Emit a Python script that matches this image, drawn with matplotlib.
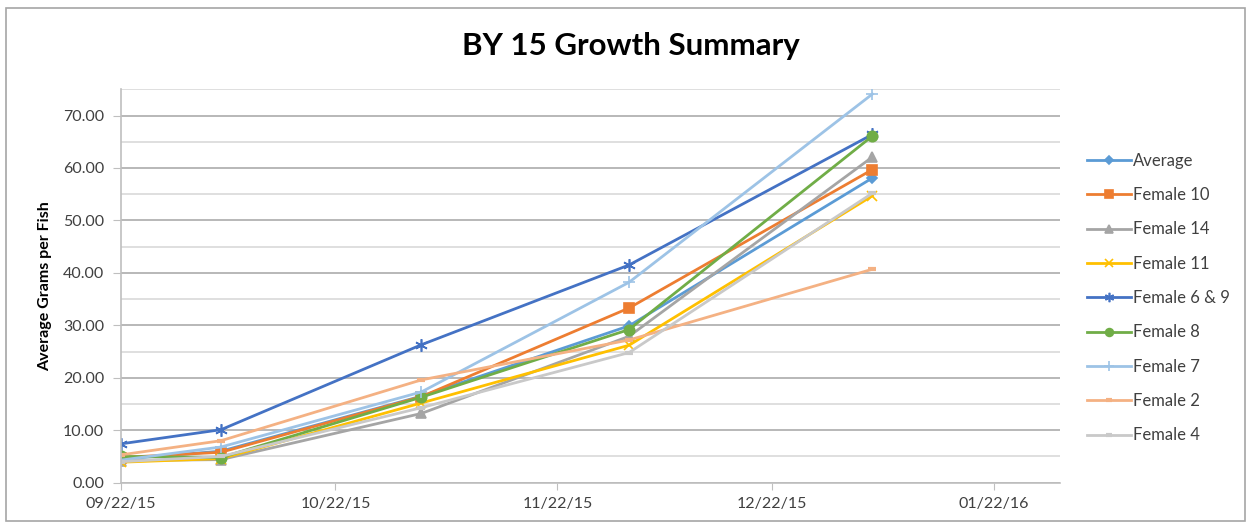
import datetime as dt
import matplotlib
matplotlib.use("Agg")
import matplotlib.pyplot as plt
import matplotlib.dates as mdates
from matplotlib.patches import Rectangle

plt.rcParams['font.family'] = ['Lato', 'DejaVu Sans']

# sampling dates
datum = [dt.date(2015, 9, 22), dt.date(2015, 10, 6), dt.date(2015, 11, 3),
         dt.date(2015, 12, 2), dt.date(2016, 1, 5)]

# average grams per fish, one list per group
average = [4.5, 6.0, 16.5, 29.9, 58.1]
female_10 = [4.8, 5.8, 16.4, 33.3, 59.7]
female_14 = [4.2, 4.4, 13.2, 27.9, 62.1]
female_11 = [3.9, 4.6, 15.2, 26.2, 54.7]
female_6_9 = [7.4, 10.1, 26.3, 41.5, 66.4]
female_8 = [5.0, 4.8, 16.3, 29.2, 66.1]
female_7 = [4.3, 6.8, 17.3, 38.2, 74.1]
female_2 = [5.3, 8.0, 19.6, 27.2, 40.7]
female_4 = [4.0, 5.0, 14.3, 24.8, 55.2]

namen = ["Average", "Female 10", "Female 14", "Female 11", "Female 6 & 9",
         "Female 8", "Female 7", "Female 2", "Female 4"]
werte = [average, female_10, female_14, female_11, female_6_9,
         female_8, female_7, female_2, female_4]
farben = ["#5B9BD5", "#ED7D31", "#A5A5A5", "#FFC000", "#4472C4",
          "#70AD47", "#9DC3E6", "#F4B183", "#C9C9C9"]
marker = ["D", "s", "^", "x", (6, 2, 0), "o", "+", "_", "_"]
msize = [5.5, 7, 7, 7, 9, 7.5, 9, 6, 6]

fig = plt.figure(figsize=(12.51, 5.27), dpi=100)
ax = fig.add_axes([0.0965, 0.0841, 0.7508, 0.7464])

for i in range(len(namen)):
    ax.plot(datum, werte[i], color=farben[i], lw=2.0, marker=marker[i],
            ms=msize[i], mew=1.2 if i not in (7, 8) else 3,
            label=namen[i])

# axes limits and ticks
start = mdates.date2num(dt.datetime(2015, 9, 22))
ax.set_xlim(start, start + 131.2)
ax.set_ylim(0, 75)
ax.set_yticks(range(0, 80, 10))
ax.set_yticks(range(5, 80, 10), minor=True)
ax.yaxis.set_major_formatter(matplotlib.ticker.FormatStrFormatter("%.2f"))
ax.xaxis.set_major_locator(mdates.DayLocator(bymonthday=22))
ax.xaxis.set_major_formatter(mdates.DateFormatter("%m/%d/%y"))

ax.grid(axis="y", which="major", color="#ABABAB", lw=1.2)
ax.grid(axis="y", which="minor", color="#D9D9D9", lw=1.2)
ax.set_axisbelow(True)
for s in ["top", "right"]:
    ax.spines[s].set_visible(False)
ax.spines["left"].set_color("#BFBFBF")
ax.spines["bottom"].set_color("#BFBFBF")
ax.spines["left"].set_linewidth(1.2)
ax.spines["bottom"].set_linewidth(1.2)
ax.tick_params(axis="y", which="major", length=6, color="#BFBFBF",
               labelsize=11.5, labelcolor="#404040", pad=6)
ax.tick_params(axis="y", which="minor", length=0)
ax.tick_params(axis="x", length=5, color="#BFBFBF", labelsize=11.5,
               labelcolor="#404040", pad=5)

ax.set_ylabel("Average Grams per Fish", fontsize=11.5, fontweight="bold",
              labelpad=8)
fig.text(0.504, 0.913, "BY 15 Growth Summary", ha="center", va="center",
         fontsize=22.5, fontweight="bold")

ax.legend(loc="upper left", bbox_to_anchor=(1.013, 0.877), frameon=False,
          fontsize=12, labelspacing=1.1, handlelength=2.6, markerscale=0.75,
          handletextpad=0.15, labelcolor="#404040")

# rahmen um das diagramm
fig.patches.append(Rectangle((0.005, 0.012), 0.99, 0.972, transform=fig.transFigure,
                             fill=False, edgecolor="#A6A6A6", lw=1.2))

fig.savefig("out.png", dpi=100)
